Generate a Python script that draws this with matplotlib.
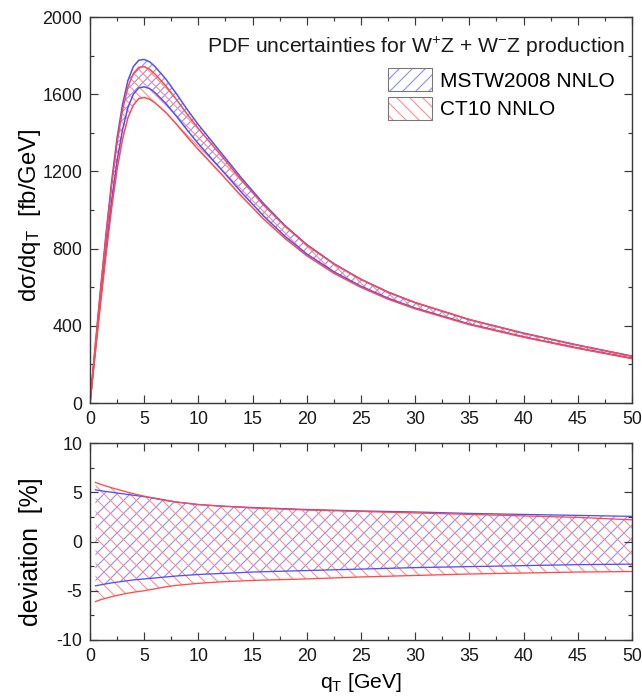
import matplotlib
matplotlib.use("Agg")
import matplotlib.pyplot as plt
from matplotlib.patches import Patch
from matplotlib.legend_handler import HandlerTuple
from matplotlib.ticker import MultipleLocator

# ---------------- data ----------------
qt_top = [0, 0.5, 1, 1.5, 2, 2.5, 3, 3.5, 4, 4.5, 5, 5.5, 6, 7, 8, 9, 10, 12, 14, 16,
          18, 20, 22.5, 25, 27.5, 30, 35, 40, 45, 50]
mstw_up = [0, 305, 605, 888, 1150, 1374, 1547, 1671, 1743, 1776, 1780, 1768, 1743, 1678,
           1600, 1518, 1442, 1303, 1164, 1034, 919, 821, 722, 641, 575, 520, 432, 362, 300, 243]
mstw_low = [0, 277, 550, 809, 1049, 1256, 1415, 1531, 1600, 1633, 1638, 1629, 1608, 1552,
            1484, 1412, 1343, 1217, 1090, 970, 863, 772, 680, 605, 543, 492, 409, 343, 285, 232]
ct10_up = [0, 301, 595, 872, 1129, 1349, 1517, 1638, 1707, 1739, 1743, 1729, 1704, 1643,
           1570, 1494, 1422, 1289, 1153, 1026, 915, 818, 720, 640, 573, 520, 432, 361, 299, 242]
ct10_low = [0, 267, 529, 779, 1011, 1211, 1366, 1478, 1544, 1577, 1583, 1574, 1555, 1505,
            1443, 1376, 1313, 1193, 1070, 954, 852, 763, 672, 599, 538, 488, 406, 341, 283, 230]

qt_dev = [0.5, 1, 2, 3, 4, 5, 6, 7, 8, 10, 12, 15, 20, 25, 30, 35, 40, 45, 50]
mstw_dev_up = [5.25, 5.15, 5.0, 4.85, 4.7, 4.55, 4.4, 4.2, 4.0, 3.75, 3.6, 3.45, 3.25, 3.1,
               3.0, 2.85, 2.75, 2.65, 2.55]
mstw_dev_low = [-4.5, -4.4, -4.2, -4.05, -3.9, -3.8, -3.7, -3.6, -3.5, -3.35, -3.25, -3.1,
                -2.95, -2.8, -2.65, -2.55, -2.45, -2.35, -2.3]
ct10_dev_up = [6.0, 5.8, 5.45, 5.15, 4.85, 4.6, 4.35, 4.15, 4.0, 3.75, 3.6, 3.4, 3.2, 3.05,
               2.9, 2.75, 2.6, 2.45, 2.2]
ct10_dev_low = [-6.1, -5.9, -5.6, -5.35, -5.15, -5.0, -4.8, -4.6, -4.45, -4.25, -4.1, -3.95,
                -3.8, -3.6, -3.45, -3.3, -3.2, -3.1, -3.05]

labels = ["MSTW2008 NNLO", "CT10 NNLO"]
title_txt = "PDF uncertainties for W$^{+}$Z + W$^{-}$Z production"

# ---------------- style ----------------
DPI = 78
NARROW = ["Liberation Sans Narrow", "Liberation Sans", "DejaVu Sans"]
REG = ["Liberation Sans", "DejaVu Sans"]
plt.rcParams["font.family"] = NARROW
plt.rcParams["mathtext.default"] = "regular"
plt.rcParams["axes.unicode_minus"] = False
plt.rcParams["hatch.linewidth"] = 1.0

BLUE = "#4f4fff"
RED = "#ff4a4a"
BLUE_H = "#8c8cff"
RED_H = "#ff8c8c"
FRAME = "#3a3a3a"

fig = plt.figure(figsize=(643 / DPI, 700 / DPI), dpi=DPI)
ax1 = fig.add_axes([90 / 643, 1 - 403 / 700, 542 / 643, 386 / 700])
ax2 = fig.add_axes([90 / 643, 1 - 640 / 700, 542 / 643, 197 / 700])


def style(ax):
    for s in ax.spines.values():
        s.set_color(FRAME)
        s.set_linewidth(1.3)
    ax.tick_params(which="both", direction="in", top=True, right=True,
                   colors=FRAME, labelcolor="#1a1a1a", width=1.1, labelsize=16.5, pad=7)
    ax.tick_params(which="major", length=7.5)
    ax.tick_params(which="minor", length=3.8)
    ax.xaxis.set_major_locator(MultipleLocator(5))
    ax.xaxis.set_minor_locator(MultipleLocator(2.5))
    ax.set_xlim(0, 50)


# top panel
ax1.fill_between(qt_top, mstw_low, mstw_up, facecolor="none", edgecolor=BLUE_H,
                 hatch="///", linewidth=0)
ax1.fill_between(qt_top, ct10_low, ct10_up, facecolor="none", edgecolor=RED_H,
                 hatch="\\\\\\", linewidth=0)
for y in (mstw_up, mstw_low):
    ax1.plot(qt_top, y, color=BLUE, lw=1.4)
for y in (ct10_up, ct10_low):
    ax1.plot(qt_top, y, color=RED, lw=1.4)
style(ax1)
ax1.set_ylim(0, 2000)
ax1.yaxis.set_major_locator(MultipleLocator(400))
ax1.yaxis.set_minor_locator(MultipleLocator(200))
ax1.set_ylabel("d$\\sigma$/dq$_T$  [fb/GeV]", family=REG, fontsize=22)
ax1.yaxis.set_label_coords(-0.087, 0.486)

ax1.text(0.987, 0.922, title_txt, transform=ax1.transAxes, ha="right", va="center",
         fontsize=19.5, color="#1a1a1a")

h1 = (Patch(facecolor="none", edgecolor=BLUE_H, hatch="//", linewidth=0),
      Patch(facecolor="none", edgecolor="#777777", linewidth=1.0))
h2 = (Patch(facecolor="none", edgecolor=RED_H, hatch="\\\\", linewidth=0),
      Patch(facecolor="none", edgecolor="#777777", linewidth=1.0))
ax1.legend([h1, h2], labels, handler_map={tuple: HandlerTuple(ndivide=1)},
           loc="upper left", bbox_to_anchor=((388 - 90) / 542, (402 - 67) / 386),
           frameon=False, fontsize=19.3, borderpad=0, borderaxespad=0,
           handlelength=2.1, handleheight=1.35, handletextpad=0.4, labelspacing=0.25)

# bottom panel
ax2.fill_between(qt_dev, mstw_dev_low, mstw_dev_up, facecolor="none", edgecolor=BLUE_H,
                 hatch="//", linewidth=0)
ax2.fill_between(qt_dev, ct10_dev_low, ct10_dev_up, facecolor="none", edgecolor=RED_H,
                 hatch="\\\\", linewidth=0)
for y in (mstw_dev_up, mstw_dev_low):
    ax2.plot(qt_dev, y, color=BLUE, lw=1.2)
for y in (ct10_dev_up, ct10_dev_low):
    ax2.plot(qt_dev, y, color=RED, lw=1.2)
style(ax2)
ax2.set_ylim(-10, 10)
ax2.yaxis.set_major_locator(MultipleLocator(5))
ax2.yaxis.set_minor_locator(MultipleLocator(2.5))
ax2.set_ylabel("deviation  [%]", family=REG, fontsize=23)
ax2.yaxis.set_label_coords(-0.087, 0.45)
ax2.set_xlabel("q$_T$ [GeV]", fontsize=19.5, labelpad=6)

fig.savefig("out.png", dpi=DPI)
